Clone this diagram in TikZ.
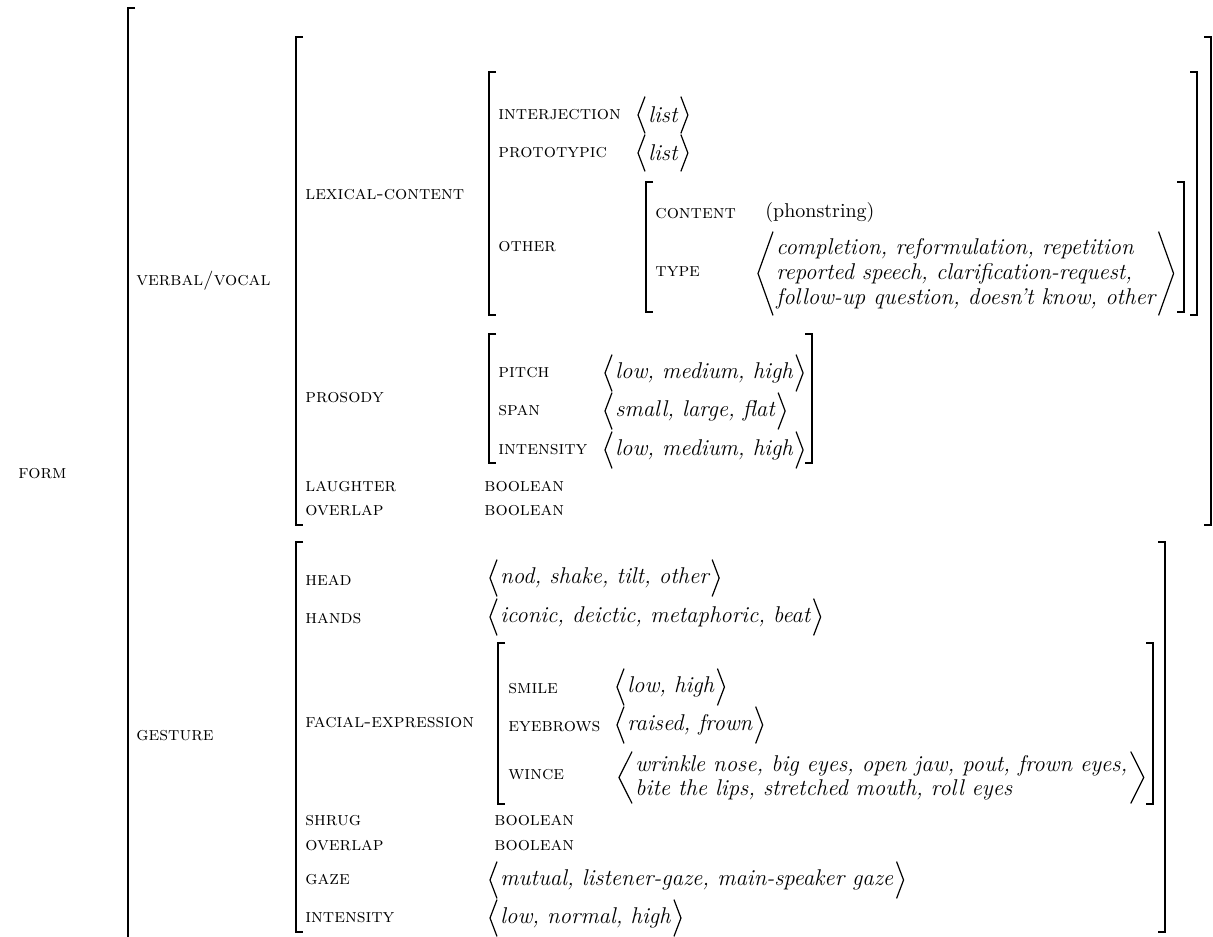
\documentclass[tikz,border=0pt]{standalone}
\newcommand{\lbrk}[3]{\draw[brk] (#1+7,#2) -- (#1,#2) -- (#1,#3) -- (#1+7,#3);}
\newcommand{\rbrk}[3]{\draw[brk] (#1-7,#2) -- (#1,#2) -- (#1,#3) -- (#1-7,#3);}
\newcommand{\angles}[2][3.5pt]{%
\draw[ang] (#2.north west) -- ([xshift=-#1]#2.west) -- (#2.south west);
\draw[ang] (#2.north east) -- ([xshift=#1]#2.east) -- (#2.south east);}

\begin{document}
\begin{tikzpicture}[x=0.5pt, y=-0.5pt,
  brk/.style={line width=0.9pt},
  ang/.style={line width=0.6pt},
  lab/.style={anchor=west, inner sep=0pt, font=\fontsize{9.6}{11}\selectfont\scshape},
  val/.style={anchor=west, inner xsep=1.5pt, inner ysep=0pt, minimum height=18pt,
    font=\fontsize{11.4}{12.5}\selectfont\itshape}]
\useasboundingbox (0,0) rectangle (1213,936);

\node[lab] (form) at (18,474) {form};
\draw[brk] (135,8) -- (128,8) -- (128,940); % form, open below

% verbal/vocal
\node[lab] (verbal) at (136,281) {verbal/vocal};
\lbrk{296}{37}{525}
\rbrk{1211}{37}{525}
\node[lab] (lexical) at (305,195) {lexical-content};
\node[lab] (prosody) at (305,398) {prosody};
\node[lab] (laughter) at (305,487) {laughter};
\node[lab] (overlapv) at (305,511) {overlap};
\node[lab] (laughterv) at (484,487) {boolean};
\node[lab] (overlapvv) at (484,511) {boolean};

% lexical-content
\lbrk{489}{72}{315}
\rbrk{1197}{72}{315}
\node[lab] (interj) at (498,115) {interjection};
\node[lab] (proto) at (498,153) {prototypic};
\node[lab] (other) at (498,247) {other};
\node[val] (interjv) at (645,115) {list}; \angles{interjv}
\node[val] (protov) at (645,153) {list}; \angles{protov}
\lbrk{646}{182}{312}
\rbrk{1184}{182}{312}
\node[lab] (content) at (655,214) {content};
\node[anchor=west, inner sep=0pt] (contentv) at (765,213) {(phonstring)};
\node[lab] (type) at (655,272) {type};
\node[val, align=left, minimum height=41.5pt] (typev) at (773,273.5)
  {completion, reformulation, repetition\\reported speech, clarification-request,\\follow-up question, doesn't know, other};
\angles[7.5pt]{typev}

% prosody
\lbrk{489}{334}{463}
\rbrk{812}{334}{463}
\node[lab] (pitch) at (498,373) {pitch};
\node[lab] (span) at (498,411) {span};
\node[lab] (intens) at (498,450) {intensity};
\node[val] (pitchv) at (612,373) {low, medium, high}; \angles{pitchv}
\node[val] (spanv) at (612,411) {small, large, flat}; \angles{spanv}
\node[val] (intensv) at (612,450) {low, medium, high}; \angles{intensv}

% gesture
\node[lab] (gesture) at (136,736) {gesture};
\lbrk{296}{542}{932}
\rbrk{1165}{542}{932}
\node[lab] (head) at (305,580) {head};
\node[lab] (hands) at (305,619) {hands};
\node[lab] (facial) at (305,723) {facial-expression};
\node[lab] (shrug) at (305,821) {shrug};
\node[lab] (overlapg) at (305,846) {overlap};
\node[lab] (gaze) at (305,880) {gaze};
\node[lab] (intensg) at (305,918) {intensity};
\node[val] (headv) at (497,578) {nod, shake, tilt, other}; \angles{headv}
\node[val] (handsv) at (497,617) {iconic, deictic, metaphoric, beat}; \angles{handsv}
\node[lab] (shrugv) at (494,821) {boolean};
\node[lab] (overlapgv) at (494,846) {boolean};
\node[val] (gazev) at (497,880) {mutual, listener-gaze, main-speaker gaze}; \angles{gazev}
\node[val] (intensgv) at (497,918) {low, normal, high}; \angles{intensgv}

% facial-expression
\lbrk{498}{643}{804}
\rbrk{1153}{643}{804}
\node[lab] (smile) at (508,689) {smile};
\node[lab] (brows) at (508,727) {eyebrows};
\node[lab] (wince) at (508,775) {wince};
\node[val] (smilev) at (624,687) {low, high}; \angles{smilev}
\node[val] (browsv) at (624,725) {raised, frown}; \angles{browsv}
\node[val, align=left, minimum height=25.5pt, font=\fontsize{11.4}{12}\selectfont\itshape] (wincev) at (632,777.5)
  {wrinkle nose, big eyes, open jaw, pout, frown eyes,\\bite the lips, stretched mouth, roll eyes};
\angles[6.5pt]{wincev}
\end{tikzpicture}
\end{document}
